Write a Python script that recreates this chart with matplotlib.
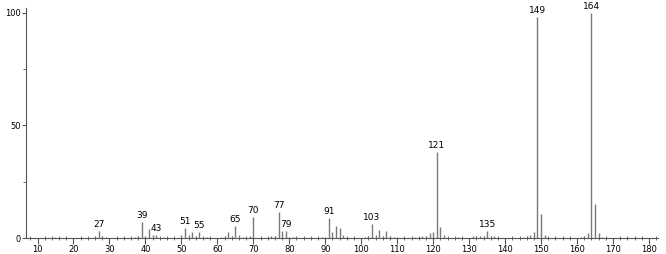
import numpy as np
import matplotlib
matplotlib.use("Agg")
import matplotlib.pyplot as plt
from matplotlib.ticker import MultipleLocator

# m/z and relative intensity
mz = [15, 26, 27, 28, 29, 37, 38, 39, 40, 41, 42, 43, 44, 45, 46,
      50, 51, 52, 53, 54, 55, 56, 57, 58, 61, 62, 63, 64, 65, 66, 67, 69, 70,
      74, 75, 76, 77, 78, 79, 80, 81, 82, 84, 86, 89, 90, 91, 92, 93, 94, 95, 96,
      101, 102, 103, 104, 105, 106, 107, 108, 109, 110, 115, 116, 117, 118, 119, 120,
      121, 122, 123, 127, 131, 132, 133, 134, 135, 136, 137, 145, 146, 147, 148,
      149, 150, 151, 161, 162, 163, 164, 165, 166, 167]
intensity = [0.5, 1.0, 3.0, 0.8, 0.5, 0.5, 1.0, 7.0, 0.8, 4.0, 1.5, 1.5, 0.6, 0.5, 0.5,
             1.5, 4.5, 1.5, 2.5, 0.8, 2.5, 0.6, 0.6, 0.4, 0.5, 0.8, 2.5, 1.0, 5.3, 1.5, 0.6, 1.0, 9.2,
             0.5, 0.8, 1.0, 11.5, 3.0, 3.0, 0.6, 0.6, 0.4, 0.4, 0.4, 0.5, 0.6, 9.0, 2.5, 5.5, 4.5, 1.5, 0.5,
             0.5, 1.0, 6.0, 1.5, 3.5, 1.0, 3.0, 0.8, 0.6, 0.4, 0.6, 0.6, 1.0, 1.0, 2.0, 2.5,
             38.0, 5.0, 1.5, 0.4, 1.0, 1.0, 1.0, 1.0, 3.0, 1.0, 1.0, 0.6, 0.8, 1.5, 2.5,
             98.0, 10.5, 1.5, 0.6, 1.0, 2.0, 100.0, 15.0, 2.0, 0.5]
labeled = [27, 39, 43, 51, 55, 65, 70, 77, 79, 91, 103, 121, 135, 149, 164]

fig = plt.figure(figsize=(6.66, 2.54), dpi=100)
ax = fig.add_axes([26 / 666, 16 / 254, 632 / 666, 230 / 254])

ax.vlines(mz, 0, intensity, color="#7a7a7a", linewidth=1.0)

for m in labeled:
    h = intensity[mz.index(m)]
    ax.annotate(str(m), (m, h), xytext=(0, 1.5), textcoords="offset points",
                ha="center", va="bottom", fontsize=6.5, color="black")

ax.set_xlim(6.8, 182.5)
ax.set_ylim(0, 102.2)
ax.spines["top"].set_visible(False)
ax.spines["right"].set_visible(False)
ax.spines["left"].set_color("#555555")
ax.spines["bottom"].set_color("#555555")

ax.xaxis.set_major_locator(MultipleLocator(10))
ax.xaxis.set_minor_locator(MultipleLocator(2))
ax.yaxis.set_major_locator(MultipleLocator(50))
ax.yaxis.set_minor_locator(MultipleLocator(25))
ax.tick_params(axis="x", which="major", direction="out", length=4, width=0.8, labelsize=6, pad=1, color="#555555")
ax.tick_params(axis="x", which="minor", direction="inout", length=3, width=0.6, color="#555555")
ax.tick_params(axis="y", which="major", direction="out", length=3, width=0.8, labelsize=6, pad=1, color="#555555")
ax.tick_params(axis="y", which="minor", direction="out", length=2, width=0.6, color="#555555")

fig.savefig("out.png", dpi=100)
